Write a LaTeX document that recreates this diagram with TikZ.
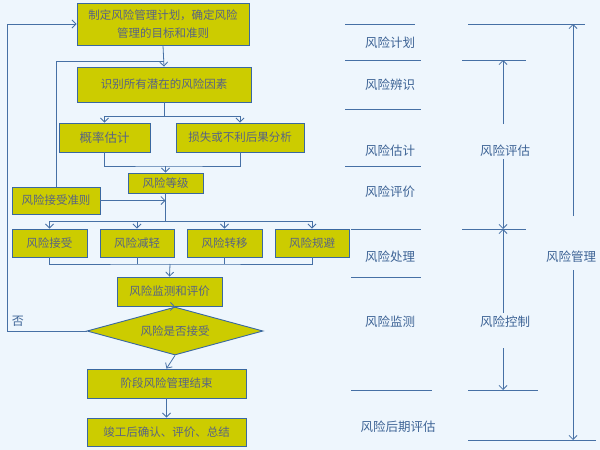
\documentclass[tikz,border=0pt]{standalone}
\usepackage{fontspec}
\setmainfont{Noto Sans CJK SC}
\usetikzlibrary{shapes.geometric, arrows.meta, calc, positioning}
\definecolor{bgblue}{RGB}{238,246,253}
\definecolor{boxfill}{RGB}{204,204,0}
\definecolor{boxline}{RGB}{58,104,160}
\definecolor{boxtext}{RGB}{88,100,132}
\definecolor{linkblue}{RGB}{70,112,165}
\definecolor{phasetext}{RGB}{62,100,150}

\begin{document}
\begin{tikzpicture}[x=1pt,y=-1pt]

% TikZ styles
\tikzset{
  stepbox/.style={rectangle, draw=boxline, fill=boxfill, line width=0.9pt, text=boxtext, font=\fontsize{11.5}{18}\selectfont, align=center, inner sep=1pt},
  decision/.style={diamond, draw=boxline, fill=boxfill, line width=0.9pt, text=boxtext, font=\fontsize{11.5}{14}\selectfont, aspect=3.6, inner sep=0pt, minimum width=176pt, minimum height=48pt},
  arrow/.style={-{Straight Barb[length=4pt,width=8pt]}, draw=linkblue, line width=0.8pt},
  link/.style={draw=linkblue, line width=0.8pt},
  phase/.style={text=phasetext, font=\fontsize{12.5}{15}\selectfont, inner sep=1pt},
  sepline/.style={draw=linkblue, line width=1pt}
}

\fill[bgblue] (0,0) rectangle (600,450);
\useasboundingbox (0,0) rectangle (600,450);

%==========================
% Ablauf links
%==========================
\node[stepbox, minimum width=172pt, minimum height=42pt] (plan) at (163,24) {制定风险管理计划，确定风险\\管理的目标和准则};
\node[stepbox, minimum width=174pt, minimum height=35pt] (ident) at (164,84.5) {识别所有潜在的风险因素};
\node[stepbox, minimum width=91pt, minimum height=29pt, font=\fontsize{12.5}{14}\selectfont] (prob) at (104.5,137.5) {概率估计};
\node[stepbox, minimum width=128pt, minimum height=29pt] (loss) at (240,137.5) {损失或不利后果分析};
\node[stepbox, minimum width=75pt, minimum height=20pt] (level) at (165.5,183) {风险等级};
\node[stepbox, minimum width=88pt, minimum height=27pt] (crit) at (56,200.5) {风险接受准则};

\node[stepbox, minimum width=75pt, minimum height=28pt] (accept)   at ( 49.5,243) {风险接受};
\node[stepbox, minimum width=74pt, minimum height=28pt] (reduce)   at (137,243)   {风险减轻};
\node[stepbox, minimum width=75pt, minimum height=28pt] (transfer) at (224.5,243) {风险转移};
\node[stepbox, minimum width=74pt, minimum height=28pt] (avoid)    at (312,243)   {风险规避};

\node[stepbox, minimum width=105pt, minimum height=29pt] (monitor) at (169.5,291.5) {风险监测和评价};
\node[decision] (decide) at (175,331) {风险是否接受};
\node[stepbox, minimum width=159pt, minimum height=29pt] (stageend) at (166.5,383.5) {阶段风险管理结束};
\node[stepbox, minimum width=159pt, minimum height=28pt] (final) at (166.5,432) {竣工后确认、评价、总结};

\node[coordinate] (fbjoin)   at (164,61) {};
\node[coordinate] (splitpt)  at (164,116) {};
\node[coordinate] (mergept)  at (165.5,166) {};
\node[coordinate] (treatpt)  at (165.5,221) {};
\node[coordinate] (monpt)    at (170,264) {};
\node[coordinate] (noturn)   at (7,331) {};
\node[text=phasetext, font=\fontsize{12}{14}\selectfont] (nolabel) at (18,321) {否};

\draw[arrow] (plan.south) -- (ident.north);
\draw[link] (crit.north) |- (fbjoin);
\draw[link] (ident.south) -- (splitpt);
\draw[arrow] (splitpt) -| (prob.north);
\draw[arrow] (splitpt) -| (loss.north);
\draw[link] (prob.south) |- (mergept) -| (loss.south);
\draw[arrow] (mergept) -- (level.north);
\draw[link] (level.south) -- (treatpt);
\draw[arrow] (crit.east) -- (crit.east -| level.south);
\foreach \b in {accept, reduce, transfer, avoid}
  \draw[arrow] (treatpt) -| (\b.north);
\draw[link] (accept.south) |- (monpt) -| (avoid.south);
\foreach \b in {reduce, transfer}
  \draw[link] (\b.south) -- (\b.south |- monpt);
\draw[arrow] (monpt) -- (monitor.north);
\draw[arrow] (monitor.south) -- (decide.north);
\draw[arrow] (decide.west) -- (noturn) |- (plan.west);
\draw[arrow] (decide.south) -- (stageend.north);
\draw[arrow] (stageend.south) -- (final.north);

%==========================
% Phasen rechts
%==========================
\node[phase] (pplan)    at (390,43)  {风险计划};
\node[phase] (pident)   at (390,85)  {风险辨识};
\node[phase] (pest)     at (390,151) {风险估计};
\node[phase] (peval)    at (390,192) {风险评价};
\node[phase] (ptreat)   at (390,257) {风险处理};
\node[phase] (pmon)     at (390,322) {风险监测};
\node[phase] (plate)    at (398,427) {风险后期评估};

\draw[sepline] (345,24)  -- (415,24);
\draw[sepline] (345,60)  -- (421,60);
\draw[sepline] (345,109) -- (421,109);
\draw[sepline] (345,166) -- (421,166);
\draw[sepline] (351,229) -- (421,229);
\draw[sepline] (351,277) -- (421,277);
\draw[sepline] (351,390) -- (432,390);

\node[phase] (assess)  at (505,151) {风险评估};
\node[phase] (control) at (505,322) {风险控制};
\node[phase] (manage)  at (571,257) {风险管理};

\node[coordinate] (assesstop)  at (503,60) {};
\node[coordinate] (assessbot)  at (503,229) {};
\node[coordinate] (controlbot) at (503,390) {};
\node[coordinate] (managetop)  at (573,24) {};
\node[coordinate] (managebot)  at (573,440) {};

\draw[sepline] (462,60)  -- (526,60);
\draw[sepline] (462,229) -- (526,229);
\draw[sepline] (468,390) -- (538,390);
\draw[sepline] (468,24)  -- (585,24);
\draw[sepline] (468,440) -- (596,440);

\draw[arrow] ($(assess.north -| assesstop)+(0,-20)$) -- (assesstop);
\draw[arrow] ($(assess.south -| assessbot)+(0,1)$) -- (assessbot);
\draw[arrow] ($(control.north -| assessbot)+(0,-2)$) -- (assessbot);
\draw[arrow] ($(control.south -| controlbot)+(0,19)$) -- (controlbot);
\draw[arrow] ($(manage.north -| managetop)+(0,-34)$) -- (managetop);
\draw[arrow] ($(manage.south -| managebot)+(0,6)$) -- (managebot);
\end{tikzpicture}
\end{document}
